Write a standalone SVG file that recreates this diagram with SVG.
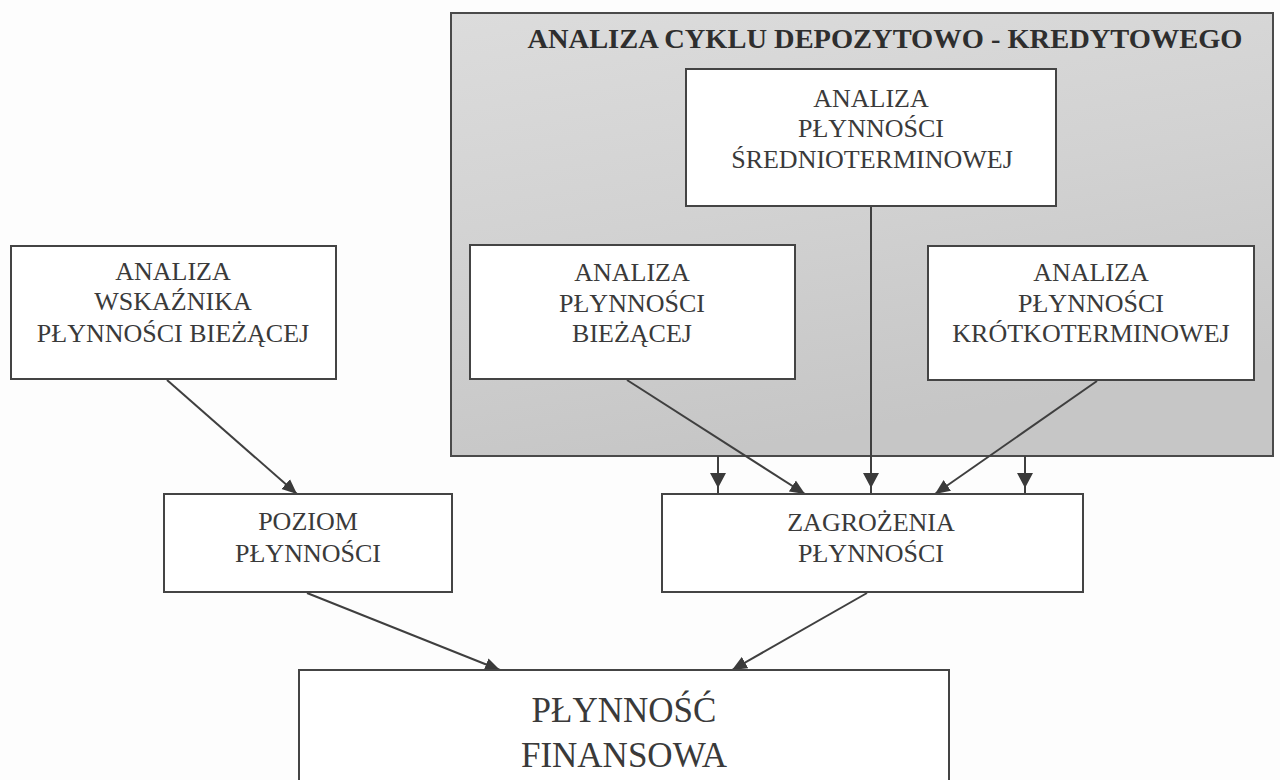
<svg xmlns="http://www.w3.org/2000/svg" width="1280" height="780" viewBox="0 0 1280 780">
  <defs>
    <linearGradient id="greyFill" x1="0" y1="0" x2="0.3" y2="1">
      <stop offset="0" stop-color="#dcdcdc"/>
      <stop offset="0.5" stop-color="#d2d2d2"/>
      <stop offset="1" stop-color="#c6c6c6"/>
    </linearGradient>
    <marker id="arrow" markerUnits="userSpaceOnUse" markerWidth="16" markerHeight="14" refX="15" refY="7" orient="auto">
      <path d="M0,0.5 L15,7 L0,13.5 Z" fill="#3a3a3a"/>
    </marker>
    <style>
      .box { fill: #ffffff; stroke: #444444; stroke-width: 2; }
      .panel { fill: url(#greyFill); stroke: #4a4a4a; stroke-width: 2; }
      .lbl { font-family: "Liberation Serif", "Times New Roman", serif; font-size: 26px; fill: #3a3a3a; text-anchor: middle; }
      .big { font-size: 35px; }
      .title { font-family: "Liberation Serif", "Times New Roman", serif; font-size: 27px; font-weight: bold; fill: #2e2e2e; text-anchor: middle; }
      .conn { stroke: #3f3f3f; stroke-width: 2; fill: none; }
      .head { fill: #3a3a3a; }
    </style>
  </defs>

  <rect width="1280" height="780" fill="#fdfdfd"/>

  <!-- grey panel: deposit-credit cycle -->
  <g id="panel-cycle">
    <rect class="panel" x="451" y="13" width="822" height="443"/>
    <text class="title" x="885" y="48" textLength="715" lengthAdjust="spacingAndGlyphs">ANALIZA CYKLU DEPOZYTOWO - KREDYTOWEGO</text>
  </g>

  <!-- connectors (drawn before boxes so boxes sit on top) -->
  <g id="connectors">
    <!-- middle vertical from medium-term analysis -->
    <line class="conn" x1="871" y1="206" x2="871" y2="494"/>
    <!-- verticals from panel bottom -->
    <line class="conn" x1="718" y1="456" x2="718" y2="494"/>
    <line class="conn" x1="1025" y1="456" x2="1025" y2="494"/>
    <polygon class="head" points="710,473 726,473 718,488"/>
    <polygon class="head" points="863,473 879,473 871,488"/>
    <polygon class="head" points="1017,473 1033,473 1025,488"/>
    <!-- diagonals -->
    <line class="conn" x1="167" y1="380" x2="297" y2="494" marker-end="url(#arrow)"/>
    <line class="conn" x1="627" y1="380" x2="805" y2="494" marker-end="url(#arrow)"/>
    <line class="conn" x1="1097" y1="381" x2="935" y2="494" marker-end="url(#arrow)"/>
    <line class="conn" x1="307" y1="593" x2="500" y2="670" marker-end="url(#arrow)"/>
    <line class="conn" x1="867" y1="593" x2="732" y2="670" marker-end="url(#arrow)"/>
  </g>

  <g id="node-srednioterminowa">
    <rect class="box" x="686" y="69" width="370" height="137"/>
    <text class="lbl" x="871" y="107">ANALIZA</text>
    <text class="lbl" x="871" y="137">PŁYNNOŚCI</text>
    <text class="lbl" x="872" y="168">ŚREDNIOTERMINOWEJ</text>
  </g>

  <g id="node-biezaca">
    <rect class="box" x="470" y="245" width="325" height="134"/>
    <text class="lbl" x="632" y="281">ANALIZA</text>
    <text class="lbl" x="632" y="312">PŁYNNOŚCI</text>
    <text class="lbl" x="632" y="342">BIEŻĄCEJ</text>
  </g>

  <g id="node-krotkoterminowa">
    <rect class="box" x="928" y="246" width="326" height="134"/>
    <text class="lbl" x="1091" y="281">ANALIZA</text>
    <text class="lbl" x="1091" y="312">PŁYNNOŚCI</text>
    <text class="lbl" x="1091" y="342">KRÓTKOTERMINOWEJ</text>
  </g>

  <g id="node-wskaznik">
    <rect class="box" x="11" y="246" width="325" height="133"/>
    <text class="lbl" x="173" y="280">ANALIZA</text>
    <text class="lbl" x="173" y="310">WSKAŹNIKA</text>
    <text class="lbl" x="173" y="342">PŁYNNOŚCI BIEŻĄCEJ</text>
  </g>

  <g id="node-poziom">
    <rect class="box" x="164" y="494" width="288" height="98"/>
    <text class="lbl" x="308" y="530">POZIOM</text>
    <text class="lbl" x="308" y="562">PŁYNNOŚCI</text>
  </g>

  <g id="node-zagrozenia">
    <rect class="box" x="662" y="494" width="421" height="98"/>
    <text class="lbl" x="871" y="531">ZAGROŻENIA</text>
    <text class="lbl" x="871" y="562">PŁYNNOŚCI</text>
  </g>

  <g id="node-plynnosc">
    <rect class="box" x="299" y="670" width="650" height="130"/>
    <text class="lbl big" x="624" y="722">PŁYNNOŚĆ</text>
    <text class="lbl big" x="624" y="767">FINANSOWA</text>
  </g>
</svg>
